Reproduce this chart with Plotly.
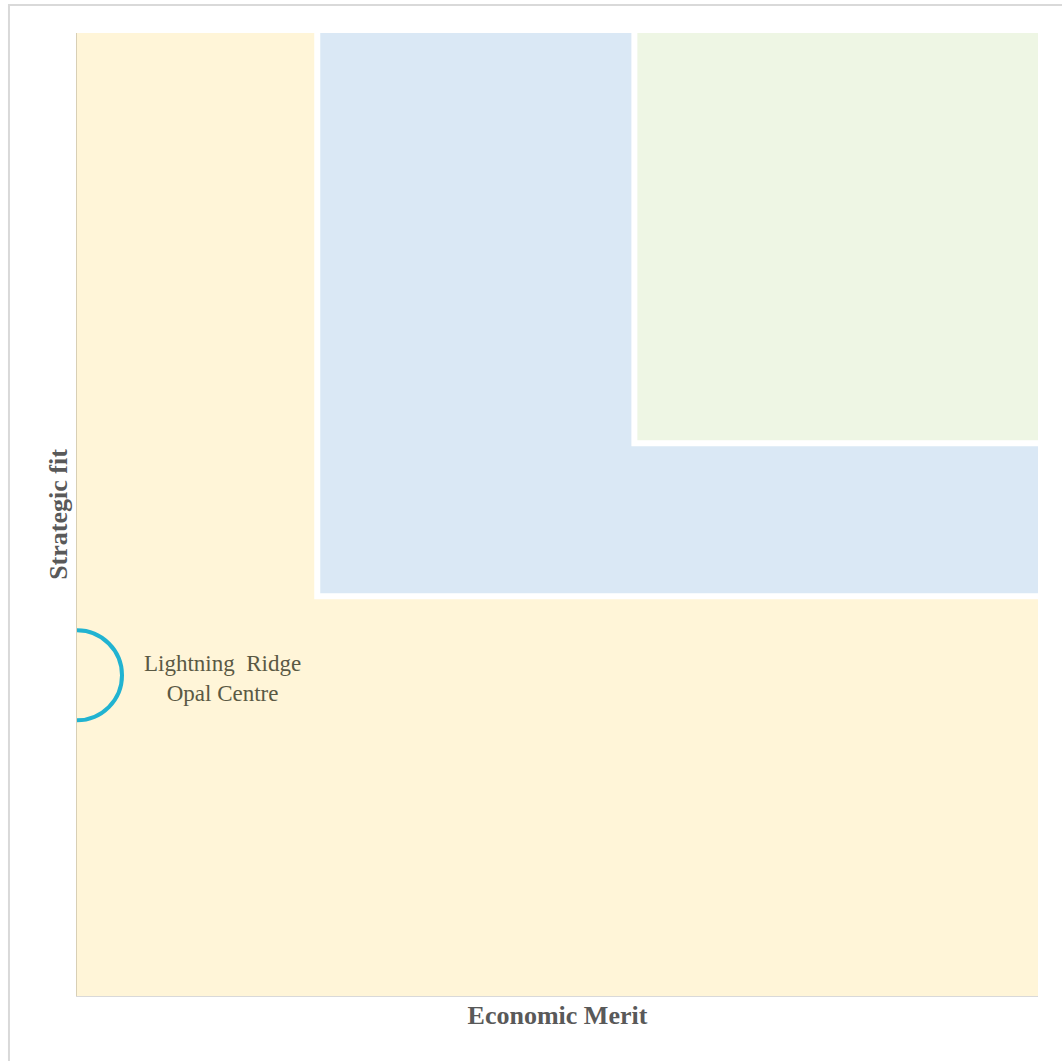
import plotly.graph_objects as go

# Data
project_names = ["Lightning  Ridge<br>Opal Centre"]
economic_merit = [0.0]
strategic_fit = [3.33]

# Region thresholds (axis units, 0-10 scale)
x_range = [0, 10]
y_range = [0, 10]
blue_region = {"x0": 2.5, "x1": 10, "y0": 4.15, "y1": 10}
green_region = {"x0": 5.8, "x1": 10, "y0": 5.74, "y1": 10}
label_offset_x = 1.51
label_offset_y = -0.03

fig = go.Figure()

fig.add_trace(go.Scatter(
    x=economic_merit, y=strategic_fit, mode="markers",
    marker=dict(size=90, color="rgba(0,0,0,0)", line=dict(color="#21B3D1", width=4)),
    cliponaxis=True, hoverinfo="skip", showlegend=False,
))

for name, xv, yv in zip(project_names, economic_merit, strategic_fit):
    fig.add_annotation(x=xv + label_offset_x, y=yv + label_offset_y, text=name, showarrow=False,
                       font=dict(family="Liberation Serif", size=23, color="#5A5944"),
                       align="center")

fig.add_shape(type="rect", xref="x", yref="y", layer="below",
              x0=blue_region["x0"], x1=blue_region["x1"] + 1, y0=blue_region["y0"], y1=blue_region["y1"] + 1,
              fillcolor="#DAE8F5", line=dict(color="white", width=6))
fig.add_shape(type="rect", xref="x", yref="y", layer="below",
              x0=green_region["x0"], x1=green_region["x1"] + 1, y0=green_region["y0"], y1=green_region["y1"] + 1,
              fillcolor="#EEF6E4", line=dict(color="white", width=6))

# outer chart border
fig.add_shape(type="rect", xref="paper", yref="paper",
              x0=-0.0708, x1=1.2, y0=-0.2, y1=1.029,
              line=dict(color="#D9D9D9", width=2), fillcolor="rgba(0,0,0,0)")

fig.update_layout(
    width=1062, height=1061,
    margin=dict(l=77, r=24, t=33, b=65),
    paper_bgcolor="white", plot_bgcolor="#FFF5D8",
    showlegend=False,
    xaxis=dict(range=x_range, showgrid=False, zeroline=False, showticklabels=False, ticks="",
               showline=True, linecolor="#D9D9D9", linewidth=1,
               title=dict(text="<b>Economic Merit</b>", standoff=9,
                          font=dict(family="Liberation Serif", size=26, color="#595959"))),
    yaxis=dict(range=y_range, showgrid=False, zeroline=False, showticklabels=False, ticks="",
               showline=True, linecolor="#D8CFB5", linewidth=1,
               title=dict(text="<b>Strategic fit</b>", standoff=0,
                          font=dict(family="Liberation Serif", size=26, color="#595959"))),
)

fig.write_html("out.html")
